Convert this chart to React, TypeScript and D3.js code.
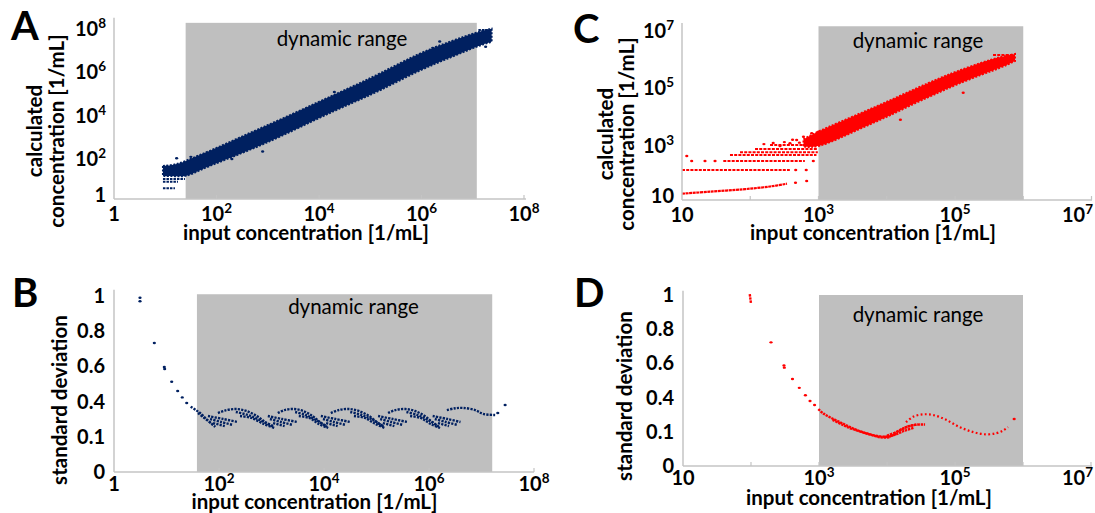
import React, { useEffect, useRef } from 'react';
import * as d3 from 'd3';

type P = [number, number];
type Band = [number, number, number];
type Run = [number, number, number];

// all x/y values below are log10 exponents for concentrations, plain numbers for sd

// A: dense cloud, [log input, log calc low, log calc high]
const cloudA: Band[] = [
  [0.955, 1.065, 1.528],
  [1.189, 1.065, 1.574],
  [1.404, 1.019, 1.759],
  [1.676, 1.343, 2.037],
  [2.008, 1.667, 2.361],
  [2.651, 2.269, 3.056],
  [3.236, 2.87, 3.657],
  [3.996, 3.75, 4.491],
  [4.6, 4.398, 5.139],
  [5.185, 5.0, 5.787],
  [5.965, 5.972, 6.759],
  [6.55, 6.528, 7.269],
  [7.096, 7.083, 7.731],
  [7.368, 7.269, 7.87],
];
// A: quantised rows [log x start, log x end, log y]
const stripesA: Run[] = [
  [0.955, 1.384, 0.926],
  [0.955, 1.248, 0.8],
  [0.955, 1.189, 0.495],
  [7.11, 7.37, 7.82],
];
const scatterA: P[] = [
  [1.222, 1.884], [1.5, 1.95], [2.3, 1.85], [2.9, 2.2], [3.6, 3.35],
  [4.3, 4.95], [5.5, 6.1], [6.22, 6.99], [6.355, 7.28], [7.251, 7.037],
];

// B: standard deviation vs log input
const sdPointsB: P[] = [
  [0.495, 0.99], [0.495, 0.97], [0.768, 0.733], [0.958, 0.597], [0.965, 0.585],
  [1.099, 0.513], [1.213, 0.46], [1.3, 0.424], [1.385, 0.392],
  [7.31, 0.335], [7.45, 0.381],
];
const sdStrandsB: P[][] = [
  [[1.46, 0.371], [1.56, 0.352], [1.66, 0.33], [1.76, 0.3], [1.886, 0.267]],
  [[1.6, 0.335], [1.72, 0.307], [1.84, 0.28], [1.93, 0.256]],
  // around 10^2
  [[1.79, 0.318], [2.08, 0.301], [2.36, 0.284]],
  [[1.83, 0.301], [2.04, 0.284], [2.27, 0.267]],
  [[1.886, 0.278], [2.11, 0.261]],
  [[1.98, 0.335], [2.11, 0.349], [2.32, 0.358], [2.52, 0.347], [2.72, 0.318], [2.88, 0.284], [3.03, 0.261]],
  [[2.32, 0.341], [2.55, 0.324], [2.78, 0.295], [3.04, 0.256]],
  [[2.4, 0.318], [2.62, 0.307], [2.85, 0.273], [3.06, 0.25]],
  // around 10^3
  [[2.93, 0.318], [3.2, 0.301], [3.5, 0.284]],
  [[2.97, 0.301], [3.18, 0.284], [3.41, 0.267]],
  [[3.03, 0.278], [3.25, 0.261]],
  [[3.12, 0.335], [3.25, 0.352], [3.43, 0.358], [3.6, 0.347], [3.78, 0.318], [3.92, 0.284], [4.04, 0.261]],
  [[3.45, 0.341], [3.65, 0.324], [3.85, 0.295], [4.06, 0.256]],
  [[3.52, 0.318], [3.72, 0.307], [3.9, 0.273], [4.08, 0.25]],
  // around 10^4
  [[3.94, 0.318], [4.22, 0.301], [4.5, 0.284]],
  [[3.98, 0.301], [4.19, 0.284], [4.42, 0.267]],
  [[4.04, 0.278], [4.26, 0.261]],
  [[4.13, 0.335], [4.28, 0.352], [4.48, 0.358], [4.66, 0.347], [4.86, 0.318], [5.0, 0.284], [5.12, 0.261]],
  [[4.5, 0.341], [4.72, 0.324], [4.94, 0.295], [5.14, 0.256]],
  [[4.57, 0.318], [4.78, 0.307], [4.98, 0.273], [5.16, 0.25]],
  // around 10^5
  [[5.03, 0.318], [5.31, 0.301], [5.59, 0.284]],
  [[5.07, 0.301], [5.28, 0.284], [5.51, 0.267]],
  [[5.12, 0.278], [5.34, 0.261]],
  [[5.22, 0.335], [5.36, 0.352], [5.55, 0.358], [5.73, 0.347], [5.92, 0.318], [6.06, 0.284], [6.17, 0.261]],
  [[5.57, 0.341], [5.78, 0.324], [5.99, 0.295], [6.19, 0.256]],
  [[5.64, 0.318], [5.84, 0.307], [6.03, 0.273], [6.21, 0.25]],
  // around 10^6
  [[6.07, 0.318], [6.35, 0.301], [6.6, 0.284]],
  [[6.11, 0.301], [6.32, 0.284], [6.55, 0.267]],
  [[6.17, 0.278], [6.38, 0.261]],
  [[6.34, 0.352], [6.5, 0.362], [6.65, 0.364], [6.88, 0.352], [7.03, 0.33], [7.26, 0.324]],
];

// C: dense cloud and quantised rows
const cloudC: Band[] = [
  [2.78, 2.86, 3.12],
  [2.993, 2.831, 3.389],
  [3.315, 3.163, 3.721],
  [3.711, 3.599, 4.122],
  [4.048, 3.947, 4.471],
  [4.443, 4.418, 4.906],
  [4.78, 4.767, 5.255],
  [5.0, 5.011, 5.465],
  [5.41, 5.395, 5.813],
  [5.659, 5.604, 5.988],
  [5.879, 5.848, 6.092],
];
const lowLineC: P[] = [[1.0, 1.22], [1.41, 1.29], [1.894, 1.373], [2.289, 1.471], [2.538, 1.569]];
const stripesC: Run[] = [
  [1.0, 2.58, 2.046],
  [1.605, 2.8, 2.36],
  [1.703, 2.97, 2.57],
  [1.85, 2.99, 2.664],
  [2.07, 2.99, 2.779],
  [2.29, 2.99, 2.918],
  [5.557, 5.879, 6.057],
];
const scatterC: P[] = [
  [2.663, 1.603], [2.827, 1.663], [2.666, 2.046], [2.82, 2.046],
  [1.142, 2.36], [1.337, 2.36], [1.484, 2.36], [2.924, 2.36], [1.07, 2.535],
  [2.2, 2.95], [2.336, 2.99], [2.436, 2.883], [2.5, 3.02], [2.582, 2.978], [2.62, 3.1],
  [2.68, 3.093], [2.72, 3.0], [2.78, 3.208], [2.85, 3.15], [2.9, 3.326], [3.0, 3.382],
  [5.12, 4.74], [4.2, 3.8],
];

// D: standard deviation vs log input
const sdPointsD: P[] = [
  [2.294, 0.723], [2.485, 0.588], [2.49, 0.575], [2.61, 0.509], [2.71, 0.457],
  [2.8, 0.414], [2.868, 0.38], [2.935, 0.357], [5.87, 0.275],
];
const sdStrandsD: P[][] = [
  [[1.982, 1.005], [1.99, 0.98], [2.0, 0.95]],
  [[2.99, 0.333], [3.06, 0.308], [3.16, 0.285], [3.31, 0.256], [3.46, 0.227], [3.6, 0.204], [3.75, 0.185], [3.9, 0.173], [4.04, 0.173], [4.13, 0.189]],
  [[3.2, 0.27], [3.35, 0.24], [3.5, 0.215], [3.7, 0.19], [3.9, 0.168], [4.05, 0.168]],
  [[3.95, 0.17], [4.1, 0.18], [4.25, 0.205], [4.4, 0.225]],
  [[4.0, 0.178], [4.15, 0.2], [4.3, 0.23], [4.45, 0.243]],
  [[4.1, 0.19], [4.25, 0.222], [4.4, 0.24], [4.56, 0.243]],
];
const sdArcD: P[] = [
  [4.28, 0.256], [4.39, 0.289], [4.53, 0.302], [4.68, 0.298], [4.87, 0.27], [5.07, 0.227],
  [5.27, 0.198], [5.46, 0.185], [5.61, 0.192], [5.71, 0.208], [5.78, 0.227],
];

// tick labels
const xExpsAB = [0, 2, 4, 6, 8];
const xExpsCD = [1, 3, 5, 7];
const minorCD = [2, 3, 4, 5, 6, 7];
const yExpsA = [0, 2, 4, 6, 8];
const yExpsC = [1, 3, 5, 7];
const sdTicks = [0, 0.2, 0.4, 0.6, 0.8, 1];
const sdTickLabels = ['0', '0.1', '0.4', '0.6', '0.8', '1'];

const W = 1095;
const NAVY = '#002060';
const RED = '#ff0000';
const FONT = 'Lato, "Open Sans", sans-serif';
const TICK_FS = 20;
const TITLE_FS = 20.5;

const App = () => {
  const svgRef = useRef<SVGSVGElement>(null);

  useEffect(() => {
    const svg = d3.select(svgRef.current);
    svg.selectAll('*').remove();
    const p10 = (e: number) => Math.pow(10, e);

    const expText = (t: any, e: number) => {
      if (e === 0) t.text('1');
      else if (e === 1) t.text('10');
      else {
        t.text('10');
        t.append('tspan').attr('dy', -8).attr('font-size', 13.5).text(String(e));
      }
    };

    const box = (g: any, x0: number, x1: number, y0: number, y1: number) => {
      g.append('rect').attr('x', x0).attr('y', y0)
        .attr('width', x1 - x0).attr('height', y1 - y0).attr('fill', '#bfbfbf');
    };

    const axisLines = (g: any, x0: number, x1: number, yBase: number, yTop: number, ticks: number[]) => {
      g.append('line').attr('x1', x0).attr('x2', x1).attr('y1', yBase).attr('y2', yBase)
        .attr('stroke', '#c4c4c4').attr('stroke-width', 1.5);
      g.append('line').attr('x1', x0).attr('x2', x0).attr('y1', yBase).attr('y2', yTop)
        .attr('stroke', '#c4c4c4').attr('stroke-width', 1.5);
      ticks.forEach(t => {
        g.append('line').attr('x1', t).attr('x2', t).attr('y1', yBase).attr('y2', yBase - 4)
          .attr('stroke', '#c4c4c4').attr('stroke-width', 1.2);
      });
    };

    const xLabels = (g: any, x: any, exps: number[], yBase: number, off: number) => {
      exps.forEach(e => {
        const px = x(p10(e));
        const nearEdge = px > W - 20;
        const t = g.append('text').attr('x', nearEdge ? W - 2 : px).attr('y', yBase + off)
          .attr('text-anchor', nearEdge ? 'end' : 'middle').attr('font-size', TICK_FS).attr('font-weight', 700)
          .attr('font-family', FONT).attr('fill', '#000');
        expText(t, e);
      });
    };

    const yLogLabels = (g: any, y: any, exps: number[], xAxis: number) => {
      exps.forEach(e => {
        const t = g.append('text').attr('x', xAxis - 8).attr('y', y(p10(e)) + (e <= 1 ? 3 : 10))
          .attr('text-anchor', 'end').attr('font-size', TICK_FS).attr('font-weight', 700)
          .attr('font-family', FONT).attr('fill', '#000');
        expText(t, e);
      });
    };

    const ySdLabels = (g: any, y: any, xAxis: number) => {
      sdTicks.forEach((v, i) => {
        g.append('text').attr('x', xAxis - 9).attr('y', y(v) + 7)
          .attr('text-anchor', 'end').attr('font-size', TICK_FS).attr('font-weight', 700)
          .attr('font-family', FONT).attr('fill', '#000').text(sdTickLabels[i]);
      });
    };

    const label = (g: any, txt: string, x: number, y: number, size: number, weight: number, anchor = 'middle', rotate = false) => {
      const t = g.append('text').attr('font-size', size).attr('font-weight', weight)
        .attr('font-family', FONT).attr('fill', '#000').attr('text-anchor', anchor).text(txt);
      if (rotate) t.attr('transform', `translate(${x},${y}) rotate(-90)`);
      else t.attr('x', x).attr('y', y);
    };

    const band = (g: any, x: any, y: any, data: Band[], color: string) => {
      const area = d3.area<Band>()
        .x(d => x(p10(d[0])))
        .y0(d => y(p10(d[1])))
        .y1(d => y(p10(d[2])))
        .curve(d3.curveBasis);
      g.append('path').datum(data).attr('d', area).attr('fill', color)
        .attr('stroke', color).attr('stroke-width', 2).attr('stroke-dasharray', '2 1.5');
    };

    const runs = (g: any, x: any, y: any, data: Run[], color: string, dash: string) => {
      g.selectAll(null).data(data).enter().append('line')
        .attr('x1', (d: Run) => x(p10(d[0]))).attr('x2', (d: Run) => x(p10(d[1])))
        .attr('y1', (d: Run) => y(p10(d[2]))).attr('y2', (d: Run) => y(p10(d[2])))
        .attr('stroke', color).attr('stroke-width', 2).attr('stroke-dasharray', dash);
    };

    const dots = (g: any, cx: (d: P) => number, cy: (d: P) => number, data: P[], color: string) => {
      g.selectAll(null).data(data).enter().append('ellipse')
        .attr('cx', cx).attr('cy', cy).attr('rx', 1.6).attr('ry', 1.2).attr('fill', color);
    };

    const strands = (g: any, x: any, y: any, data: P[][], color: string, width: number, dash: string) => {
      const line = d3.line<P>().x(d => x(p10(d[0]))).y(d => y(d[1])).curve(d3.curveCatmullRom);
      g.selectAll(null).data(data).enter().append('path')
        .attr('d', (d: P[]) => line(d)).attr('fill', 'none')
        .attr('stroke', color).attr('stroke-width', width).attr('stroke-dasharray', dash);
    };

    // ---------- Panel A ----------
    const xA = d3.scaleLog().domain([1, 1e8]).range([114, 524]);
    const yA = d3.scaleLog().domain([1, 1e8]).range([199, 26]);
    const gA = svg.append('g');
    box(gA, xA(25), xA(1.2e7), yA(1.4e8), yA(1));
    label(gA, 'dynamic range', 342, 46, TITLE_FS, 400);
    band(gA, xA, yA, cloudA, NAVY);
    runs(gA, xA, yA, stripesA, NAVY, '2.5 1');
    dots(gA, d => xA(p10(d[0])), d => yA(p10(d[1])), scatterA, NAVY);
    axisLines(gA, xA(1), 526, yA(1), yA(2.4e8), [2, 4, 6, 8].map(e => xA(p10(e))));
    xLabels(gA, xA, xExpsAB, yA(1), 22);
    yLogLabels(gA, yA, yExpsA, xA(1));
    label(gA, 'calculated', 42, 131, TITLE_FS, 700, 'middle', true);
    label(gA, 'concentration [1/mL]', 63.5, 131, TITLE_FS, 700, 'middle', true);
    label(gA, 'input concentration [1/mL]', 306, 240, TITLE_FS, 700);
    label(gA, 'A', 11, 40, 40, 700, 'start');

    // ---------- Panel B ----------
    const xB = d3.scaleLog().domain([1, 1e8]).range([114, 534]);
    const yB = d3.scaleLinear().domain([0, 1]).range([472, 296]);
    const gB = svg.append('g');
    box(gB, xB(38), xB(1.6e7), yB(1.01), yB(0));
    label(gB, 'dynamic range', 353.5, 314, TITLE_FS, 400);
    strands(gB, xB, yB, sdStrandsB, NAVY, 2.4, '2.2 1.2');
    dots(gB, d => xB(p10(d[0])), d => yB(d[1]), sdPointsB, NAVY);
    axisLines(gB, xB(1), 534, yB(0), yB(1.035), [2, 4, 6, 8].map(e => xB(p10(e))));
    xLabels(gB, xB, xExpsAB, yB(0), 19);
    ySdLabels(gB, yB, xB(1));
    label(gB, 'standard deviation', 67, 400, TITLE_FS, 700, 'middle', true);
    label(gB, 'input concentration [1/mL]', 314.5, 509, TITLE_FS, 700);
    label(gB, 'B', 12, 307, 40, 700, 'start');

    // ---------- Panel C ----------
    const xC = d3.scaleLog().domain([10, 1e7]).range([682, 1091.5]);
    const yC = d3.scaleLog().domain([10, 1e7]).range([200, 28]);
    const gC = svg.append('g');
    box(gC, xC(1e3), xC(1e6), yC(1.15e7), yC(10));
    label(gC, 'dynamic range', 918, 48, TITLE_FS, 400);
    band(gC, xC, yC, cloudC, RED);
    strands(gC, xC, (v: number) => yC(p10(v)), [lowLineC], RED, 2.2, '3 0.6');
    runs(gC, xC, yC, stripesC, RED, '3 1.2');
    dots(gC, d => xC(p10(d[0])), d => yC(p10(d[1])), scatterC, RED);
    axisLines(gC, xC(10), 1092, yC(10), yC(1.5e7), minorCD.map(e => xC(p10(e))));
    xLabels(gC, xC, xExpsCD, yC(10), 22);
    yLogLabels(gC, yC, yExpsC, xC(10));
    label(gC, 'calculated', 613, 134, TITLE_FS, 700, 'middle', true);
    label(gC, 'concentration [1/mL]', 634, 134, TITLE_FS, 700, 'middle', true);
    label(gC, 'input concentration [1/mL]', 873, 240, TITLE_FS, 700);
    label(gC, 'C', 573, 43, 40, 700, 'start');

    // ---------- Panel D ----------
    const xD = d3.scaleLog().domain([10, 1e7]).range([683, 1091]);
    const yD = d3.scaleLinear().domain([0, 1]).range([466, 295]);
    const gD = svg.append('g');
    box(gD, xD(1e3), xD(1e6), yD(1.0), yD(0));
    label(gD, 'dynamic range', 918, 322, TITLE_FS, 400);
    strands(gD, xD, yD, sdStrandsD, RED, 2.4, '2.4 0.8');
    strands(gD, xD, yD, [sdArcD], RED, 2.2, '1.8 2.4');
    dots(gD, d => xD(p10(d[0])), d => yD(d[1]), sdPointsD, RED);
    axisLines(gD, xD(10), 1092, yD(0), yD(1.025), minorCD.map(e => xD(p10(e))));
    xLabels(gD, xD, xExpsCD, yD(0), 19);
    ySdLabels(gD, yD, xD(10));
    label(gD, 'standard deviation', 632, 396, TITLE_FS, 700, 'middle', true);
    label(gD, 'input concentration [1/mL]', 869, 505, TITLE_FS, 700);
    label(gD, 'D', 574, 307, 40, 700, 'start');
  }, []);

  return (
    <svg ref={svgRef} width={W} height={513}
      style={{ position: 'absolute', left: 0, top: 0, background: '#fff' }} />
  );
};

export default App;
